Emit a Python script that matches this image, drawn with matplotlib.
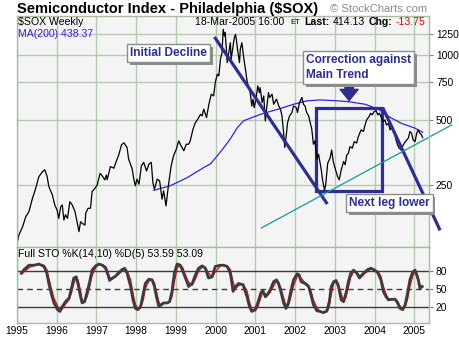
import matplotlib
matplotlib.use("Agg")
import matplotlib.pyplot as plt
import matplotlib.patheffects as pe
from matplotlib.patches import Rectangle

plt.rcParams['font.family'] = ['Liberation Sans', 'DejaVu Sans']

# ------------------ DATA ------------------ #
price_years = [
    1995.01, 1995.05, 1995.14, 1995.22, 1995.30, 1995.39, 1995.47, 1995.55, 1995.64, 1995.70,
    1995.76, 1995.80, 1995.89, 1995.95, 1996.01, 1996.05, 1996.10, 1996.14, 1996.18, 1996.22,
    1996.27, 1996.33, 1996.39, 1996.46, 1996.52, 1996.56, 1996.60, 1996.64, 1996.71, 1996.73,
    1996.79, 1996.85, 1996.89, 1996.96, 1997.02, 1997.09, 1997.16, 1997.21, 1997.25, 1997.27,
    1997.35, 1997.44, 1997.48, 1997.56, 1997.63, 1997.69, 1997.77, 1997.81, 1997.90, 1997.94,
    1997.98, 1998.02, 1998.07, 1998.13, 1998.19, 1998.26, 1998.32, 1998.38, 1998.42, 1998.46,
    1998.53, 1998.59, 1998.65, 1998.69, 1998.75, 1998.78, 1998.82, 1998.88, 1998.94, 1999.01,
    1999.07, 1999.13, 1999.20, 1999.26, 1999.32, 1999.36, 1999.43, 1999.49, 1999.55, 1999.62,
    1999.66, 1999.70, 1999.77, 1999.83, 1999.89, 1999.95, 1999.99, 2000.04, 2000.08, 2000.12,
    2000.16, 2000.19, 2000.22, 2000.24, 2000.27, 2000.29, 2000.33, 2000.37, 2000.39, 2000.44,
    2000.47, 2000.50, 2000.52, 2000.55, 2000.60, 2000.62, 2000.66, 2000.70, 2000.75, 2000.79,
    2000.83, 2000.87, 2000.91, 2000.94, 2000.97, 2001.02, 2001.06, 2001.10, 2001.12, 2001.17,
    2001.21, 2001.25, 2001.29, 2001.33, 2001.36, 2001.42, 2001.46, 2001.53, 2001.59, 2001.63,
    2001.67, 2001.71, 2001.74, 2001.78, 2001.81, 2001.86, 2001.92, 2001.96, 2002.03, 2002.06,
    2002.11, 2002.17, 2002.21, 2002.25, 2002.29, 2002.34, 2002.38, 2002.42, 2002.46, 2002.50,
    2002.55, 2002.59, 2002.66, 2002.69, 2002.74, 2002.77, 2002.82, 2002.88, 2002.92, 2002.96,
    2003.02, 2003.07, 2003.11, 2003.16, 2003.22, 2003.26, 2003.30, 2003.34, 2003.38, 2003.44,
    2003.49, 2003.55, 2003.59, 2003.66, 2003.72, 2003.76, 2003.80, 2003.86, 2003.90, 2003.94,
    2003.99, 2004.04, 2004.08, 2004.12, 2004.16, 2004.22, 2004.26, 2004.30, 2004.35, 2004.39,
    2004.45, 2004.50, 2004.54, 2004.58, 2004.62, 2004.67, 2004.70, 2004.75, 2004.81, 2004.85,
    2004.89, 2004.93, 2004.97, 2005.02, 2005.06, 2005.10, 2005.14, 2005.18, 2005.21,
]
price_values = [
    137, 147, 160, 178, 188, 217, 241, 273, 288, 294,
    273, 246, 225, 202, 191, 175, 198, 202, 172, 182,
    175, 209, 202, 188, 166, 152, 169, 166, 163, 185,
    195, 195, 233, 241, 250, 283, 273, 264, 278, 264,
    304, 299, 315, 344, 383, 392, 373, 329, 296, 266,
    248, 266, 252, 306, 318, 290, 312, 318, 256, 239,
    266, 261, 215, 235, 200, 222, 256, 306, 341, 366,
    400, 379, 360, 386, 386, 400, 453, 486, 504, 531,
    522, 561, 513, 591, 658, 646, 745, 814, 800, 955,
    1025, 1315, 1225, 1268, 1063, 921, 1025, 1140, 955, 1100,
    1203, 1246, 1182, 1063, 921, 1063, 1140, 989, 858, 758,
    706, 669, 580, 624, 570, 635, 719, 669, 706, 602,
    646, 495, 580, 669, 635, 658, 591, 624, 580, 561,
    522, 437, 373, 429, 486, 522, 541, 580, 570, 541,
    602, 635, 591, 580, 541, 522, 486, 453, 386, 400,
    329, 347, 293, 264, 237, 250, 315, 333, 363, 321,
    293, 273, 264, 293, 321, 310, 344, 350, 376, 370,
    397, 391, 418, 450, 442, 474, 500, 518, 537, 528,
    547, 552, 528, 537, 518, 491, 500, 474, 482, 450,
    466, 434, 404, 383, 370, 363, 376, 391, 404, 412,
    442, 434, 404, 397, 434, 450, 434, 427, 414,
]

ma_years = [1998.44, 1998.86, 1999.28, 1999.70, 1999.87, 2000.04, 2000.20, 2000.37, 2000.54, 2000.70,
            2000.91, 2001.21, 2001.58, 2001.96, 2002.30, 2002.63, 2003.01, 2003.34, 2003.76, 2004.09,
            2004.39, 2004.68, 2005.02, 2005.21]
ma_values = [236, 248, 270, 301, 313, 341, 371, 409, 459, 495,
             513, 537, 561, 591, 613, 619, 614, 608, 591, 562,
             514, 482, 458, 438]

sto_years = [
    1995.11, 1995.18, 1995.30, 1995.43, 1995.55, 1995.68, 1995.75, 1995.80, 1995.86, 1995.93,
    1996.02, 1996.08, 1996.14, 1996.22, 1996.31, 1996.37, 1996.43, 1996.49, 1996.54, 1996.60,
    1996.64, 1996.70, 1996.77, 1996.83, 1996.89, 1996.98, 1997.06, 1997.15, 1997.23, 1997.29,
    1997.33, 1997.40, 1997.48, 1997.56, 1997.65, 1997.71, 1997.77, 1997.86, 1997.92, 1997.98,
    1998.04, 1998.11, 1998.18, 1998.23, 1998.32, 1998.40, 1998.46, 1998.51, 1998.57, 1998.63,
    1998.69, 1998.78, 1998.84, 1998.90, 1998.96, 1999.03, 1999.11, 1999.18, 1999.24, 1999.32,
    1999.41, 1999.49, 1999.57, 1999.66, 1999.74, 1999.82, 1999.91, 1999.99, 2000.12, 2000.20,
    2000.29, 2000.37, 2000.44, 2000.50, 2000.58, 2000.69, 2000.79, 2000.85, 2000.91, 2001.00,
    2001.07, 2001.14, 2001.19, 2001.25, 2001.29, 2001.37, 2001.46, 2001.53, 2001.58, 2001.64,
    2001.71, 2001.77, 2001.83, 2001.89, 2001.96, 2002.05, 2002.10, 2002.15, 2002.25, 2002.34,
    2002.40, 2002.46, 2002.55, 2002.63, 2002.71, 2002.80, 2002.86, 2002.91, 2002.97, 2003.03,
    2003.09, 2003.16, 2003.22, 2003.28, 2003.34, 2003.40, 2003.47, 2003.55, 2003.62, 2003.68,
    2003.74, 2003.83, 2003.91, 2004.00, 2004.08, 2004.16, 2004.22, 2004.29, 2004.35, 2004.43,
    2004.52, 2004.58, 2004.64, 2004.71, 2004.77, 2004.83, 2004.89, 2004.96, 2005.02, 2005.06,
    2005.10, 2005.14, 2005.20,
]
sto_k = [
    76, 82, 89, 89, 91, 87, 76, 59, 43, 27,
    16, 13, 21, 29, 35, 51, 68, 70, 57, 37,
    27, 29, 46, 62, 81, 88, 91, 89, 84, 73,
    64, 68, 71, 77, 82, 84, 76, 54, 32, 18,
    16, 21, 43, 59, 66, 65, 54, 37, 21, 24,
    27, 27, 29, 46, 76, 91, 89, 78, 68, 54,
    59, 73, 84, 88, 84, 68, 70, 87, 89, 89,
    87, 76, 46, 54, 59, 57, 37, 21, 13, 16,
    29, 44, 47, 37, 40, 48, 62, 65, 59, 46,
    27, 18, 27, 46, 65, 75, 73, 62, 59, 54,
    40, 24, 14, 13, 11, 14, 29, 54, 62, 64,
    54, 32, 29, 43, 62, 76, 81, 76, 68, 73,
    77, 82, 84, 81, 77, 65, 46, 37, 32, 33,
    33, 27, 18, 16, 24, 43, 65, 78, 81, 73,
    65, 51, 54,
]
sto_d = [
    74, 78, 85, 89, 90, 89, 82, 68, 52, 35,
    22, 15, 17, 25, 32, 43, 59, 69, 64, 47,
    32, 28, 38, 54, 72, 85, 90, 90, 87, 79,
    69, 66, 70, 74, 80, 83, 80, 65, 43, 25,
    17, 18, 32, 51, 63, 66, 60, 46, 29, 22,
    26, 27, 28, 37, 61, 84, 90, 84, 73, 61,
    56, 66, 79, 86, 86, 76, 69, 78, 88, 89,
    88, 82, 61, 50, 56, 58, 47, 29, 17, 14,
    22, 36, 45, 42, 38, 44, 55, 63, 62, 52,
    36, 22, 22, 36, 55, 70, 74, 68, 60, 56,
    47, 32, 19, 13, 12, 12, 21, 41, 58, 63,
    59, 43, 30, 36, 52, 69, 78, 78, 72, 70,
    75, 79, 83, 82, 79, 71, 55, 41, 34, 32,
    33, 30, 22, 17, 20, 33, 54, 71, 79, 77,
    69, 58, 53,
]

# hand-drawn annotation lines (date, price)
decline1_years = [1999.97, 2002.81]
decline1_values = [1212, 204]
decline2_years = [2004.21, 2005.65]
decline2_values = [568, 154]
support_years = [2001.15, 2005.94]
support_values = [158, 474]
box_years = [2002.53, 2004.19]
box_values = [235, 568]

price_ticks = [250, 500, 750, 1000, 1250]
sto_levels = [20, 50, 80]
year_ticks = list(range(1995, 2006))

# ------------------ STYLE ------------------ #
BG = '#f4f4f4'
GRID = '#b4cbb0'
NAVY = '#2e2e8f'
MA_BLUE = '#3a1ee0'

fig = plt.figure(figsize=(4.6, 3.4), dpi=100)
ax = fig.add_axes([17 / 460, 1 - 247 / 340, 412 / 460, 231 / 340])
ax2 = fig.add_axes([17 / 460, 1 - 323 / 340, 412 / 460, 76 / 340], sharex=ax)

for a in (ax, ax2):
    a.set_facecolor(BG)
    for s in a.spines.values():
        s.set_color('#a8bca4')
        s.set_linewidth(1)
    a.set_xticks(year_ticks)
    a.grid(True, axis='x', color=GRID, linewidth=1)
    a.set_axisbelow(True)
    a.yaxis.tick_right()
    a.tick_params(axis='y', direction='out', length=3, pad=2, labelsize=7.4, color='#808080')

# ------------------ PRICE PANEL ------------------ #
ax.set_yscale('log')
ax.set_xlim(1995.0, 2005.37)
ax.set_ylim(129, 1515)
ax.set_yticks(price_ticks)
ax.set_yticklabels([str(v) for v in price_ticks])
ax.minorticks_off()
ax.grid(True, axis='y', color=GRID, linewidth=1)
ax.tick_params(axis='x', length=0, labelbottom=False)

ax.plot(ma_years, ma_values, color=MA_BLUE, linewidth=0.9)
ax.plot(price_years, price_values, color='black', linewidth=0.9)

ax.plot(decline1_years, decline1_values, color=NAVY, linewidth=2.3, clip_on=False,
        solid_capstyle='butt')
ax.plot(decline2_years, decline2_values, color=NAVY, linewidth=2.3, clip_on=False,
        solid_capstyle='butt')
ax.plot(support_years, support_values, color='#119a9a', linewidth=0.9, clip_on=False)
ax.add_patch(Rectangle((box_years[0], box_values[0]), box_years[1] - box_years[0],
                       box_values[1] - box_values[0], fill=False, edgecolor=NAVY,
                       linewidth=2.3))

ax.annotate('', xy=(2003.36, 615), xytext=(2003.36, 735),
            arrowprops=dict(arrowstyle='simple,head_width=1.3,head_length=0.8,tail_width=0.6',
                            color=NAVY, shrinkA=0, shrinkB=0))


def note(x, y, txt):
    t = fig.text(x / 460, 1 - y / 340, txt, fontsize=8.6, fontweight='bold', color=NAVY,
                 ha='left', va='top', linespacing=1.35,
                 bbox=dict(boxstyle='square,pad=0.25', facecolor='white', edgecolor='#8c8c8c',
                           linewidth=1))
    t.get_bbox_patch().set_path_effects([
        pe.withSimplePatchShadow(offset=(2, -2), shadow_rgbFace='#8c8c8c', alpha=1)])


note(130, 47, 'Initial Decline')
note(306, 54, 'Correction against\nMain Trend')
note(349, 197, 'Next leg lower')

# header texts
fig.text(17 / 460, 1 - 9 / 340, 'Semiconductor Index - Philadelphia ($SOX)', fontsize=10.5,
         fontweight='bold', ha='left', va='center')
fig.text(427 / 460, 1 - 9 / 340, '\u00a9 StockCharts.com', fontsize=8.1, color='#8a8a8a',
         ha='right', va='center')
ax.text(0.003, 0.995, '$SOX Weekly', transform=ax.transAxes, fontsize=7.6, ha='left', va='top')
ax.text(0.003, 0.945, 'MA(200) 438.37', transform=ax.transAxes, fontsize=7.6, color=MA_BLUE,
        ha='left', va='top')
hy = 1 - 22 / 340
fig.text(195 / 460, hy, '18-Mar-2005 16:00', fontsize=7.6, ha='left', va='center')
fig.text(290 / 460, hy, 'ET', fontsize=5.5, ha='left', va='center')
fig.text(304 / 460, hy, 'Last:', fontsize=7.6, fontweight='bold', ha='left', va='center')
fig.text(333 / 460, hy, '414.13', fontsize=7.6, ha='left', va='center')
fig.text(369 / 460, hy, 'Chg:', fontsize=7.6, fontweight='bold', ha='left', va='center')
fig.text(396 / 460, hy, '-13.75', fontsize=7.6, color='#dd0000', ha='left', va='center')

# ------------------ STOCHASTIC PANEL ------------------ #
ax2.set_ylim(-6, 119)
ax2.set_yticks(sto_levels)
ax2.set_yticklabels([str(v) for v in sto_levels])
ax2.axhline(80, color='#3c3c3c', linewidth=1)
ax2.axhline(20, color='#3c3c3c', linewidth=1)
ax2.axhline(50, color='#3c3c3c', linewidth=1, linestyle=(0, (4, 3)))
ax2.plot(sto_years, sto_d, color='#ee0000', linewidth=0.9)
ax2.plot(sto_years, sto_k, color='#3c3c3c', linewidth=2)
ax2.set_xticklabels([str(y) for y in year_ticks])
ax2.tick_params(axis='x', length=0, labelsize=7.4, pad=2)
ax2.text(0.003, 0.98, 'Full STO %K(14,10) %D(5) 53.59 53.09', transform=ax2.transAxes,
         fontsize=7.6, ha='left', va='top')

fig.savefig('out.png', dpi=100, facecolor='white')
